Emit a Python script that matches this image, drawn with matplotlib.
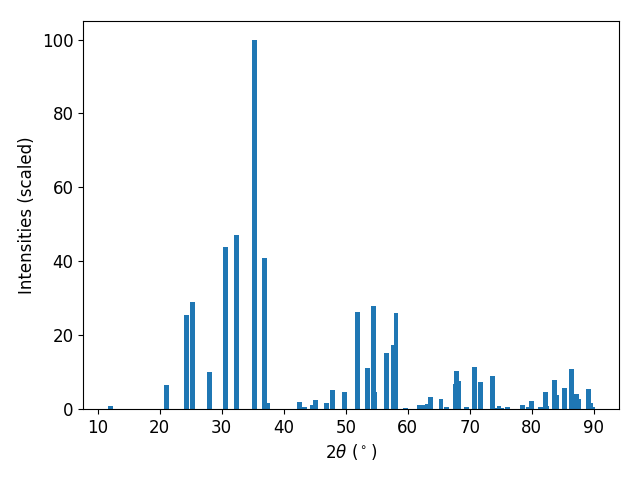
import matplotlib
matplotlib.use('Agg')
import matplotlib.pyplot as plt

plt.rcParams['font.size'] = 12

# peak positions (2theta, degrees) and scaled intensities
two_theta = [12.0, 21.1, 24.3, 25.3, 28.0, 30.6, 32.4, 35.3, 36.9, 37.4,
             42.6, 43.3, 44.65, 45.1, 46.9, 47.9, 49.8, 51.9, 53.55, 54.5,
             54.7, 56.6, 57.75, 58.1, 59.7, 61.95, 62.4, 63.2, 63.7, 65.35,
             66.3, 67.75, 67.9, 68.25, 69.5, 70.7, 71.65, 71.8, 73.6, 74.2,
             74.7, 75.1, 76.0, 78.45, 79.4, 79.9, 81.35, 82.2, 82.4, 83.6,
             83.9, 85.2, 86.35, 86.7, 87.2, 87.5, 89.1, 89.4, 89.7]
intensity = [0.8, 6.5, 25.5, 29.0, 10.0, 43.9, 47.2, 100.0, 40.9, 1.6,
             1.9, 0.4, 1.1, 2.4, 1.6, 5.1, 4.6, 26.3, 11.1, 27.9,
             4.6, 15.2, 17.3, 26.0, 0.3, 1.0, 1.0, 1.3, 3.2, 2.7,
             0.5, 6.8, 10.3, 7.6, 0.4, 11.4, 7.3, 3.5, 8.9, 0.3,
             0.8, 0.3, 0.5, 1.1, 0.4, 2.2, 0.5, 4.6, 0.8, 7.9,
             3.8, 5.7, 10.8, 2.7, 4.1, 2.7, 5.4, 1.6, 0.5]

fig, ax = plt.subplots(figsize=(6.4, 4.8), dpi=100)
ax.bar(two_theta, intensity)
ax.set_xlabel(r'$2\theta$ ($^\circ$)')
ax.set_ylabel('Intensities (scaled)')
fig.subplots_adjust(left=0.13, right=0.967, top=0.956, bottom=0.148)
fig.savefig('out.png')
